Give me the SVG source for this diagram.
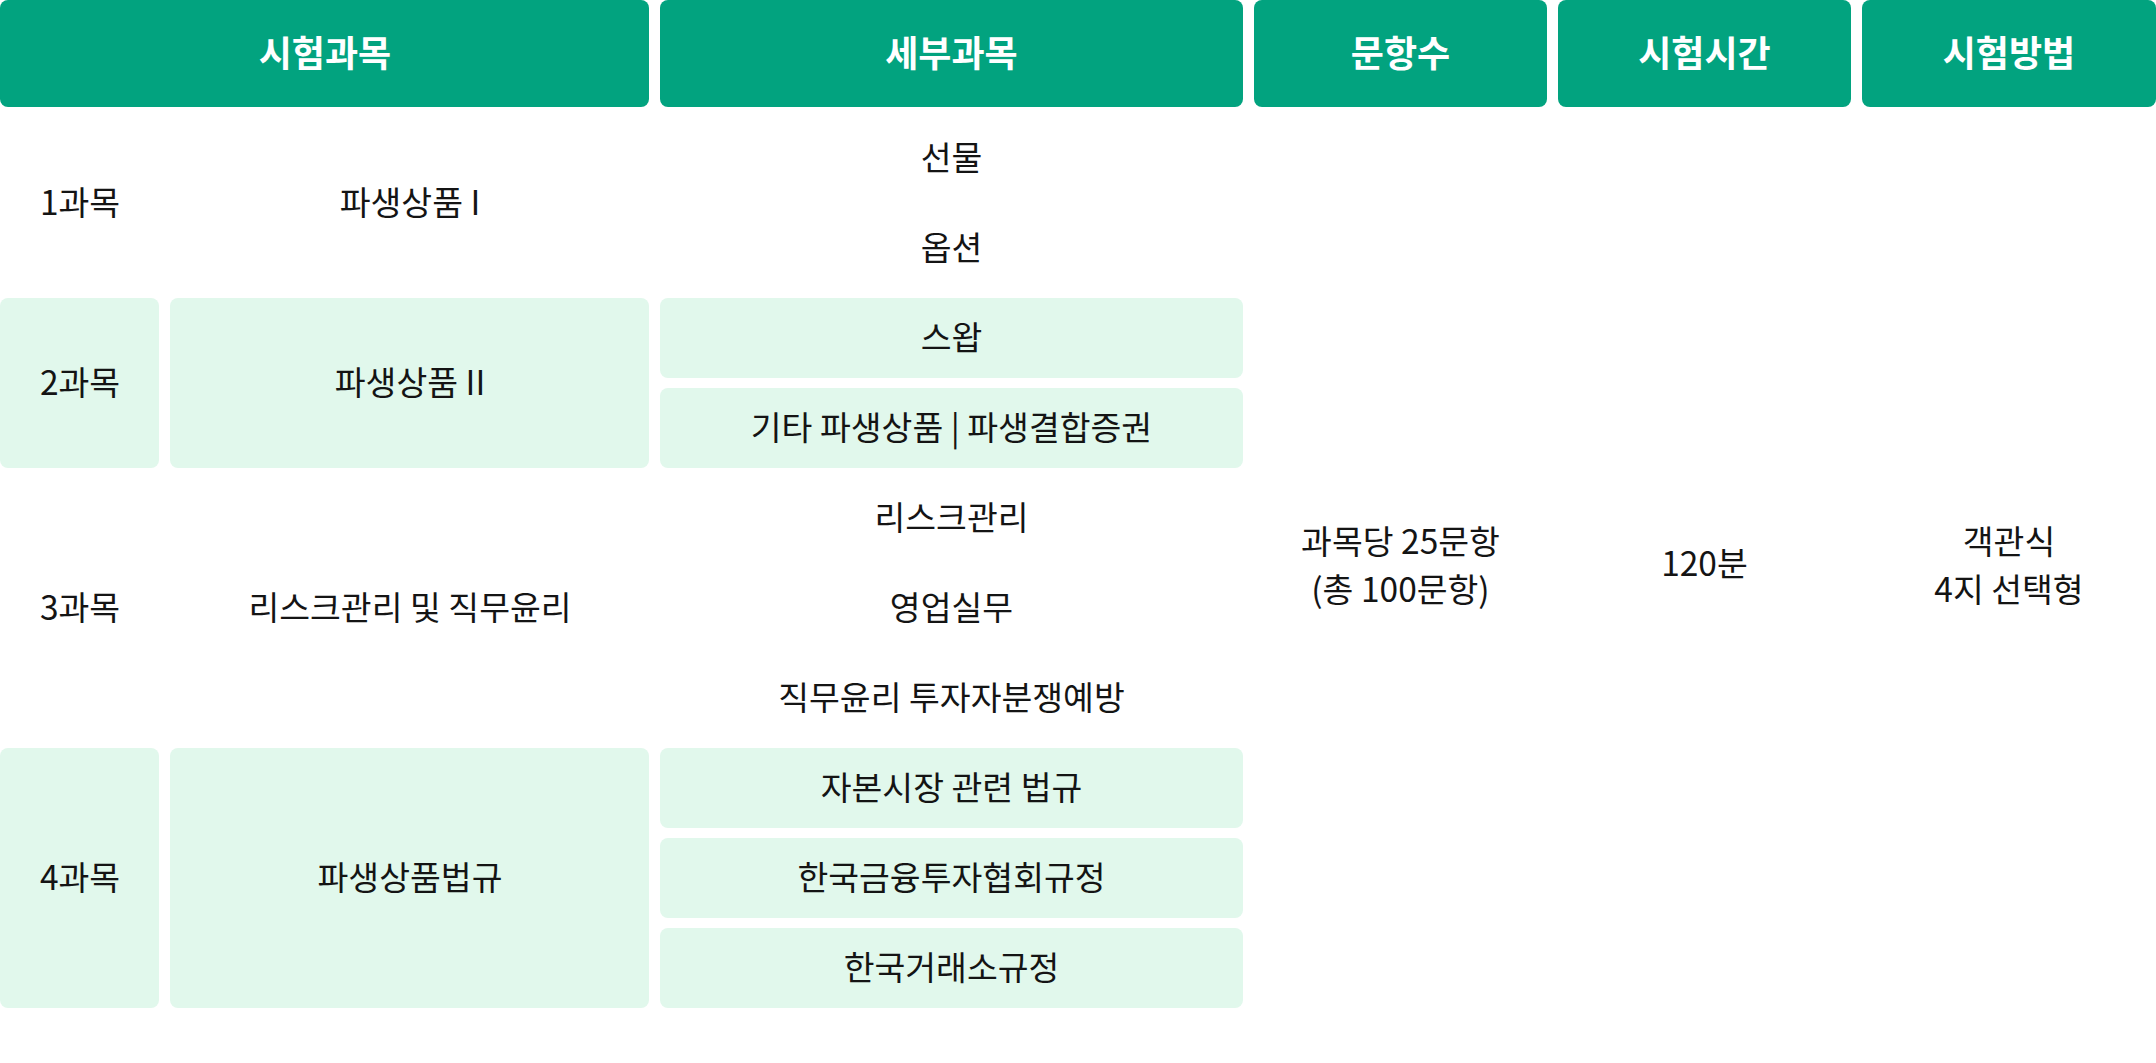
<svg xmlns="http://www.w3.org/2000/svg" width="2156" height="1063" viewBox="0 0 2156 1063">
<style>
.hd{fill:#02A37F}
.g{fill:#E1F8EC}
.w{fill:#FFFFFF}
text{font-family:"Noto Sans CJK KR","Noto Sans",sans-serif;text-anchor:middle;dominant-baseline:central}
.ht{fill:#FFFFFF;font-size:36px;font-weight:700}
.bt{fill:#141414;font-size:33.5px;font-weight:400}
</style>
<rect x="0" y="0" width="2156" height="1063" fill="#FFFFFF"/>
<g id="header">
<g id="h1"><rect class="hd" x="0" y="0" width="649" height="107" rx="8"/><text class="ht" x="325" y="51">시험과목</text></g>
<g id="h2"><rect class="hd" x="660" y="0" width="583" height="107" rx="8"/><text class="ht" x="951.5" y="51">세부과목</text></g>
<g id="h3"><rect class="hd" x="1254" y="0" width="293" height="107" rx="8"/><text class="ht" x="1400.5" y="51">문항수</text></g>
<g id="h4"><rect class="hd" x="1558" y="0" width="293" height="107" rx="8"/><text class="ht" x="1704.5" y="51">시험시간</text></g>
<g id="h5"><rect class="hd" x="1862" y="0" width="294" height="107" rx="8"/><text class="ht" x="2009" y="51">시험방법</text></g>
</g>
<g id="subject1">
<g id="s1a"><rect class="w" x="0" y="118" width="159" height="170" rx="8"/><text class="bt" x="80" y="200">1과목</text></g>
<g id="s1b"><rect class="w" x="170" y="118" width="479" height="170" rx="8"/><text class="bt" x="410" y="200">파생상품 I</text></g>
<g id="d1"><rect class="w" x="660" y="118" width="583" height="80" rx="8"/><text class="bt" x="951.5" y="155">선물</text></g>
<g id="d2"><rect class="w" x="660" y="208" width="583" height="80" rx="8"/><text class="bt" x="951.5" y="245">옵션</text></g>
</g>
<g id="subject2">
<g id="s2a"><rect class="g" x="0" y="298" width="159" height="170" rx="8"/><text class="bt" x="80" y="380">2과목</text></g>
<g id="s2b"><rect class="g" x="170" y="298" width="479" height="170" rx="8"/><text class="bt" x="410" y="380">파생상품 II</text></g>
<g id="d3"><rect class="g" x="660" y="298" width="583" height="80" rx="8"/><text class="bt" x="951.5" y="335">스왑</text></g>
<g id="d4"><rect class="g" x="660" y="388" width="583" height="80" rx="8"/><text class="bt" x="951.5" y="425">기타 파생상품 | 파생결합증권</text></g>
</g>
<g id="subject3">
<g id="s3a"><rect class="w" x="0" y="478" width="159" height="260" rx="8"/><text class="bt" x="80" y="605">3과목</text></g>
<g id="s3b"><rect class="w" x="170" y="478" width="479" height="260" rx="8"/><text class="bt" x="410" y="605">리스크관리 및 직무윤리</text></g>
<g id="d5"><rect class="w" x="660" y="478" width="583" height="80" rx="8"/><text class="bt" x="951.5" y="515">리스크관리</text></g>
<g id="d6"><rect class="w" x="660" y="568" width="583" height="80" rx="8"/><text class="bt" x="951.5" y="605">영업실무</text></g>
<g id="d7"><rect class="w" x="660" y="658" width="583" height="80" rx="8"/><text class="bt" x="951.5" y="695">직무윤리 투자자분쟁예방</text></g>
</g>
<g id="subject4">
<g id="s4a"><rect class="g" x="0" y="748" width="159" height="260" rx="8"/><text class="bt" x="80" y="875">4과목</text></g>
<g id="s4b"><rect class="g" x="170" y="748" width="479" height="260" rx="8"/><text class="bt" x="410" y="875">파생상품법규</text></g>
<g id="d8"><rect class="g" x="660" y="748" width="583" height="80" rx="8"/><text class="bt" x="951.5" y="785">자본시장 관련 법규</text></g>
<g id="d9"><rect class="g" x="660" y="838" width="583" height="80" rx="8"/><text class="bt" x="951.5" y="875">한국금융투자협회규정</text></g>
<g id="d10"><rect class="g" x="660" y="928" width="583" height="80" rx="8"/><text class="bt" x="951.5" y="965">한국거래소규정</text></g>
</g>
<g id="common">
<g id="count"><rect class="w" x="1254" y="118" width="293" height="890" rx="8"/><text class="bt" x="1400.5" y="539">과목당 25문항</text><text class="bt" x="1400.5" y="587">(총 100문항)</text></g>
<g id="time"><rect class="w" x="1558" y="118" width="293" height="890" rx="8"/><text class="bt" x="1704.5" y="561">120분</text></g>
<g id="method"><rect class="w" x="1862" y="118" width="294" height="890" rx="8"/><text class="bt" x="2009" y="539">객관식</text><text class="bt" x="2009" y="587">4지 선택형</text></g>
</g>
<g id="connectors"></g>
</svg>
